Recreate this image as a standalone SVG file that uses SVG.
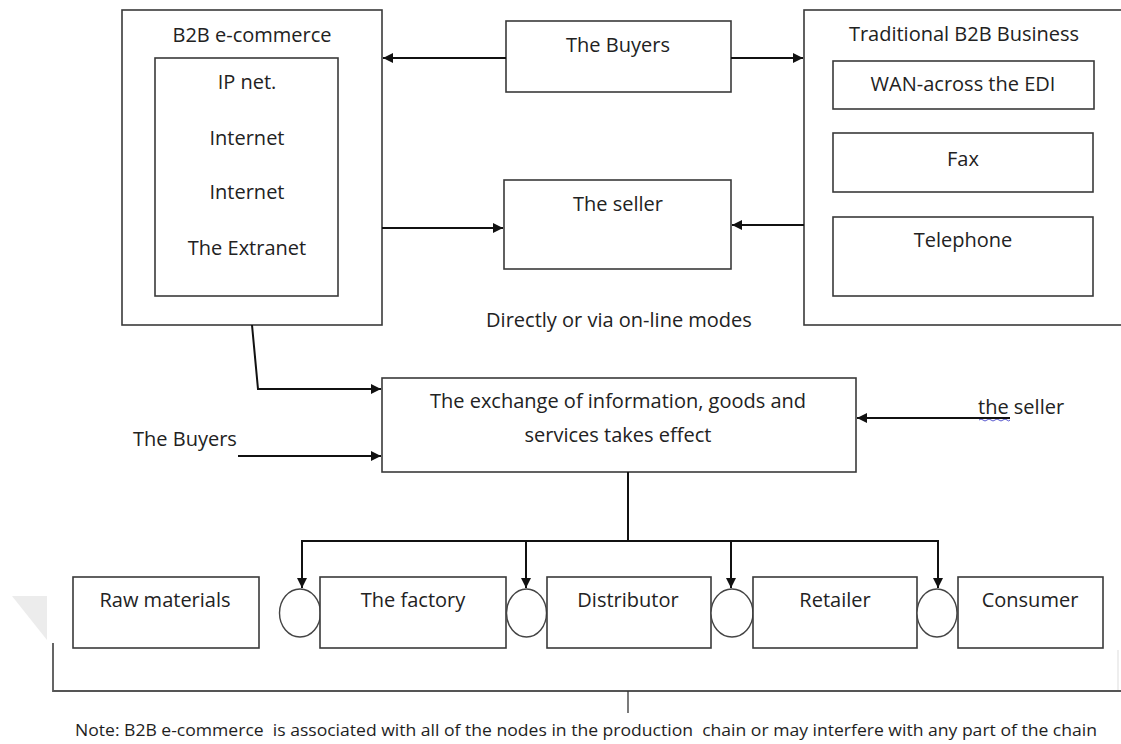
<svg xmlns="http://www.w3.org/2000/svg" width="1121" height="744" viewBox="0 0 1121 744">
  <defs>
    <marker id="arrow" viewBox="0 0 10 10" refX="10" refY="5" markerWidth="11" markerHeight="10" markerUnits="userSpaceOnUse" orient="auto">
      <path d="M0,0 L10,5 L0,10 Z" fill="#111"/>
    </marker>
    <style>
      .box { fill: #fff; stroke: #3a3a3a; stroke-width: 1.6; }
      .loop { fill: #fff; stroke: #444; stroke-width: 1.4; }
      .lbl { font-family: "Open Sans", "Liberation Sans", sans-serif; font-size: 20px; fill: #222; text-anchor: middle; }
      .free { font-family: "Open Sans", "Liberation Sans", sans-serif; font-size: 20px; fill: #222; }
      .note { font-family: "Open Sans", "Liberation Sans", sans-serif; font-size: 17px; fill: #1e1e1e; white-space: pre; }
      .conn { fill: none; stroke: #111; stroke-width: 2; }
      .conn-a { fill: none; stroke: #111; stroke-width: 2; marker-end: url(#arrow); }
      .bracket { fill: none; stroke: #555; stroke-width: 1.8; }
    </style>
  </defs>

  <rect width="1121" height="744" fill="#fff"/>

  <!-- faint corner tab at the left margin -->
  <polygon points="12,596 47,596 47,640" fill="#ececec"/>

  <!-- left block: B2B e-commerce -->
  <g id="b2b-ecommerce">
    <rect class="box" x="122" y="10" width="260" height="315"/>
    <text class="lbl" x="252" y="42">B2B e-commerce</text>
  </g>
  <g id="ip-net">
    <rect class="box" x="155" y="58" width="183" height="238"/>
    <text class="lbl" x="247" y="89">IP net.</text>
    <text class="lbl" x="247" y="145">Internet</text>
    <text class="lbl" x="247" y="199">Internet</text>
    <text class="lbl" x="247" y="255">The Extranet</text>
  </g>

  <!-- middle column -->
  <g id="buyers-top">
    <rect class="box" x="506" y="21" width="225" height="71"/>
    <text class="lbl" x="618" y="52">The Buyers</text>
  </g>
  <g id="seller-top">
    <rect class="box" x="504" y="180" width="227" height="89"/>
    <text class="lbl" x="618" y="211">The seller</text>
  </g>
  <text id="online-modes" class="lbl" x="619" y="327">Directly or via on-line modes</text>

  <!-- right block: traditional B2B -->
  <g id="traditional-b2b">
    <rect class="box" x="804" y="10" width="330" height="315"/>
    <text class="lbl" x="964" y="41">Traditional B2B Business</text>
  </g>
  <g id="wan-edi">
    <rect class="box" x="833" y="61" width="261" height="48"/>
    <text class="lbl" x="963" y="91">WAN-across the EDI</text>
  </g>
  <g id="fax">
    <rect class="box" x="833" y="133" width="260" height="59"/>
    <text class="lbl" x="963" y="166">Fax</text>
  </g>
  <g id="telephone">
    <rect class="box" x="833" y="217" width="260" height="79"/>
    <text class="lbl" x="963" y="247">Telephone</text>
  </g>

  <!-- exchange box with its side inputs -->
  <g id="exchange">
    <rect class="box" x="382" y="378" width="474" height="94"/>
    <text class="lbl" x="618" y="408">The exchange of information, goods and</text>
    <text class="lbl" x="618" y="442">services takes effect</text>
  </g>
  <text id="buyers-input" class="free" x="133" y="446">The Buyers</text>
  <g id="seller-input">
    <text class="free" x="978" y="414">the seller</text>
    <path d="M979,420 q2,-2 4,0 t4,0 t4,0 t4,0 t4,0 t4,0 t4,0 t3,0" fill="none" stroke="#5a5ad0" stroke-width="1"/>
  </g>

  <!-- production chain -->
  <g id="raw-materials">
    <rect class="box" x="73" y="577" width="186" height="71"/>
    <text class="lbl" x="165" y="607">Raw materials</text>
  </g>
  <g id="node-1"><ellipse class="loop" cx="300" cy="613" rx="20.5" ry="24"/></g>
  <g id="factory">
    <rect class="box" x="320" y="577" width="186" height="71"/>
    <text class="lbl" x="413" y="607">The factory</text>
  </g>
  <g id="node-2"><ellipse class="loop" cx="526.5" cy="613" rx="20" ry="24"/></g>
  <g id="distributor">
    <rect class="box" x="547" y="577" width="164" height="71"/>
    <text class="lbl" x="628" y="607">Distributor</text>
  </g>
  <g id="node-3"><ellipse class="loop" cx="732" cy="613" rx="21" ry="24"/></g>
  <g id="retailer">
    <rect class="box" x="753" y="577" width="164" height="71"/>
    <text class="lbl" x="835" y="607">Retailer</text>
  </g>
  <g id="node-4"><ellipse class="loop" cx="937" cy="613" rx="20" ry="24"/></g>
  <g id="consumer">
    <rect class="box" x="958" y="577" width="145" height="71"/>
    <text class="lbl" x="1030" y="607">Consumer</text>
  </g>

  <!-- connectors -->
  <g id="connectors">
    <line class="conn-a" x1="506" y1="58" x2="383" y2="58"/>
    <line class="conn-a" x1="731" y1="58" x2="803" y2="58"/>
    <line class="conn-a" x1="382" y1="228" x2="503" y2="228"/>
    <line class="conn-a" x1="804" y1="225" x2="732" y2="225"/>
    <polyline class="conn-a" points="252,325 258,389 381,389"/>
    <line class="conn-a" x1="238" y1="456" x2="381" y2="456"/>
    <line class="conn-a" x1="1010" y1="418" x2="857" y2="418"/>
    <line class="conn" x1="628" y1="472" x2="628" y2="541"/>
    <line class="conn" x1="301" y1="541" x2="939" y2="541"/>
    <line class="conn-a" x1="302" y1="541" x2="302" y2="588"/>
    <line class="conn-a" x1="526" y1="541" x2="526" y2="588"/>
    <line class="conn-a" x1="731" y1="541" x2="731" y2="588"/>
    <line class="conn-a" x1="938" y1="541" x2="938" y2="588"/>
  </g>

  <!-- bracket grouping the whole chain, with its note -->
  <g id="chain-note">
    <polyline class="bracket" points="53,643 53,691 1121,691"/>
    <line x1="1118" y1="650" x2="1118" y2="690" stroke="#ddd" stroke-width="1"/>
    <line x1="628" y1="691" x2="628" y2="713" stroke="#333" stroke-width="1.3"/>
    <text class="note" x="75" y="736" textLength="1022" lengthAdjust="spacingAndGlyphs">Note: B2B e-commerce  is associated with all of the nodes in the production  chain or may interfere with any part of the chain</text>
  </g>
</svg>
